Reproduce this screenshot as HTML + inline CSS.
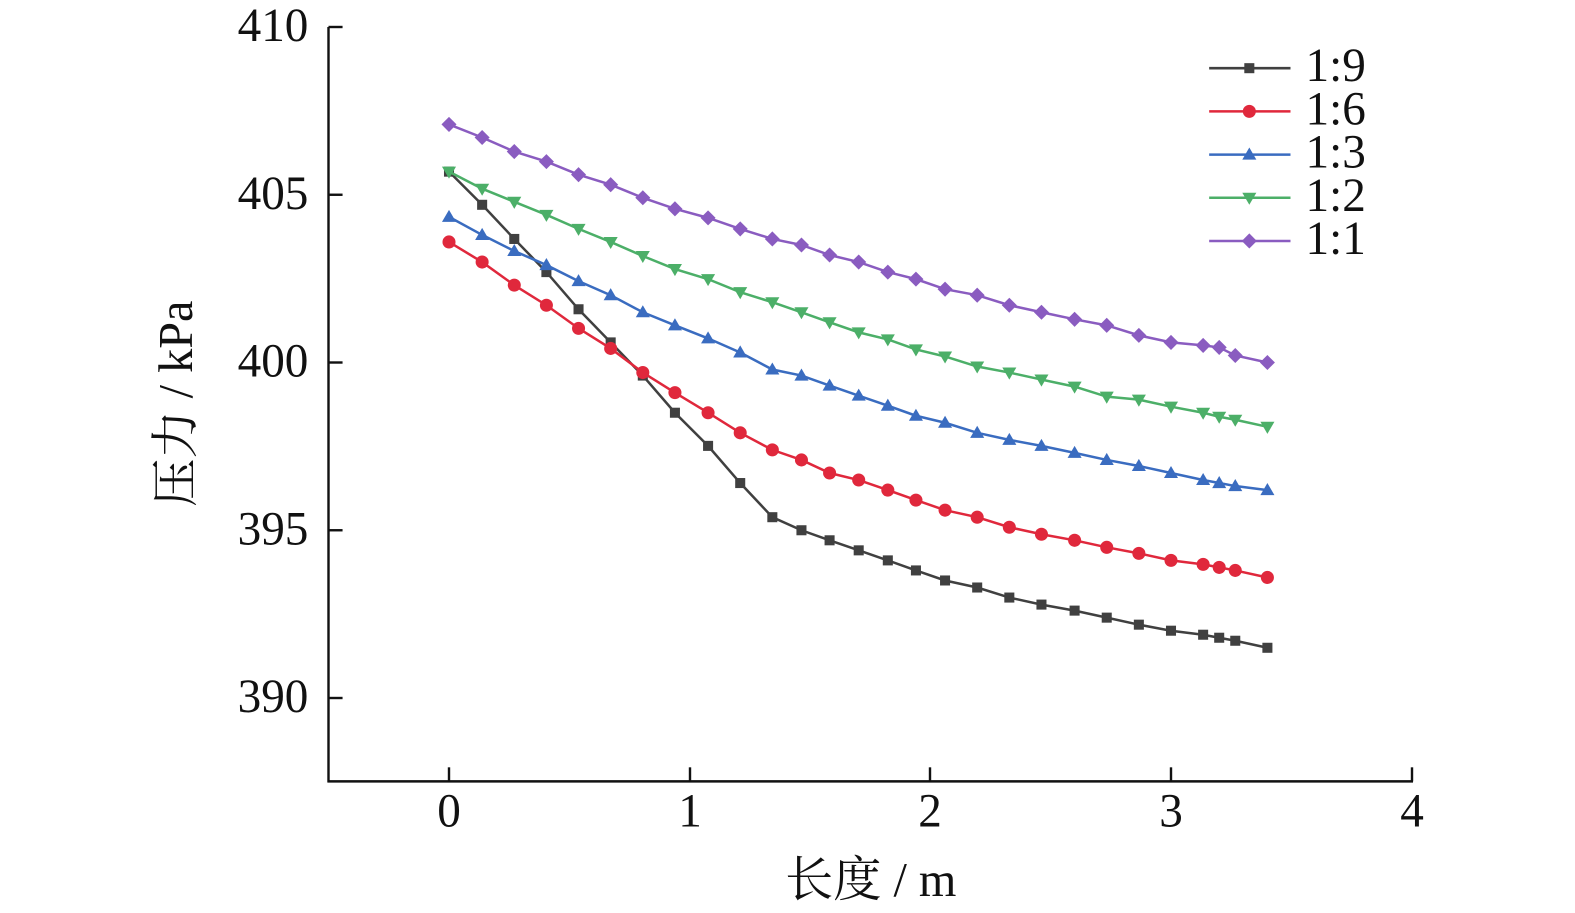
<!DOCTYPE html>
<html><head><meta charset="utf-8"><style>
html,body{margin:0;padding:0;background:#fff;overflow:hidden;width:1575px;height:913px}
svg{display:block}
text{font-family:"Liberation Serif","Noto Serif CJK SC",serif;fill:#111}
</style></head><body>
<svg width="1575" height="913" viewBox="0 0 1575 913" xmlns="http://www.w3.org/2000/svg">
<defs>
<rect id="sq" x="-5" y="-5" width="10" height="10" fill="#404040"/>
<circle id="ci" r="6.5" fill="#e0283c"/>
<polygon id="tu" points="0,-7 7,5 -7,5" fill="#3a6cc0"/>
<polygon id="td" points="0,7 7,-5 -7,-5" fill="#4caf68"/>
<polygon id="di" points="0,-7.5 7.5,0 0,7.5 -7.5,0" fill="#8a5cc0"/>
</defs>
<g transform="translate(449,27) scale(1.00417,1.0045) translate(-446,-27)">
<g stroke="#111" stroke-width="2.4" fill="none">
<line x1="326" y1="27" x2="326" y2="779"/>
<line x1="325" y1="778" x2="1406" y2="778"/>
<line x1="326" y1="27" x2="340" y2="27"/>
<line x1="326" y1="194" x2="340" y2="194"/>
<line x1="326" y1="361" x2="340" y2="361"/>
<line x1="326" y1="528" x2="340" y2="528"/>
<line x1="326" y1="695" x2="340" y2="695"/>
<line x1="446" y1="778" x2="446" y2="764"/>
<line x1="686" y1="778" x2="686" y2="764"/>
<line x1="925" y1="778" x2="925" y2="764"/>
<line x1="1165" y1="778" x2="1165" y2="764"/>
<line x1="1405" y1="778" x2="1405" y2="764"/>
</g>
<g font-size="47" text-anchor="end">
<text x="306" y="41">410</text><text x="306" y="208">405</text><text x="306" y="375">400</text><text x="306" y="542">395</text><text x="306" y="709">390</text>
</g>
<g font-size="47" text-anchor="middle">
<text x="446" y="823">0</text><text x="686" y="823">1</text><text x="925" y="823">2</text><text x="1165" y="823">3</text><text x="1405" y="823">4</text>
</g>
<text x="866" y="892" font-size="48" text-anchor="middle">长度 / m</text>
<text transform="translate(190,402) rotate(-90)" font-size="48" text-anchor="middle">压力 / kPa</text>
<g id="plot"></g>
<g font-size="47">
<line x1="1203" y1="68" x2="1284" y2="68" stroke="#404040" stroke-width="2.5"/><use href="#sq" x="1243" y="68"/><text x="1299" y="81">1:9</text>
<line x1="1203" y1="111" x2="1284" y2="111" stroke="#e0283c" stroke-width="2.5"/><use href="#ci" x="1243" y="111"/><text x="1299" y="124">1:6</text>
<line x1="1203" y1="154" x2="1284" y2="154" stroke="#3a6cc0" stroke-width="2.5"/><use href="#tu" x="1243" y="154"/><text x="1299" y="167">1:3</text>
<line x1="1203" y1="197" x2="1284" y2="197" stroke="#4caf68" stroke-width="2.5"/><use href="#td" x="1243" y="197"/><text x="1299" y="210">1:2</text>
<line x1="1203" y1="240" x2="1284" y2="240" stroke="#8a5cc0" stroke-width="2.5"/><use href="#di" x="1243" y="240"/><text x="1299" y="253">1:1</text>
</g>
</g>
</svg>
<script>
const X=[446,479,511,543,575,607,639,671,704,736,768,797,825,854,883,911,940,972,1004,1036,1069,1101,1133,1165,1197,1213,1229,1261];
const S=[
["#404040","sq",[171,204,238,271,308,341,374,411,444,481,515,528,538,548,558,568,578,585,595,602,608,615,622,628,632,635,638,645]],
["#e0283c","ci",[241,261,284,304,327,347,371,391,411,431,448,458,471,478,488,498,508,515,525,532,538,545,551,558,562,565,568,575]],
["#3a6cc0","tu",[216,234,250,264,280,294,311,324,337,351,368,374,384,394,404,414,421,431,438,444,451,458,464,471,478,481,484,488]],
["#4caf68","td",[171,188,201,214,228,241,255,268,278,291,301,311,321,331,338,348,355,365,371,378,385,395,398,405,411,415,418,425]],
["#8a5cc0","di",[124,137,151,161,174,184,197,208,217,228,238,244,254,261,271,278,288,294,304,311,318,324,334,341,344,346,354,361]]];
const ns="http://www.w3.org/2000/svg",g=document.getElementById("plot");
for(const [c,m,Y] of S){const p=document.createElementNS(ns,"polyline");
p.setAttribute("points",X.map((x,i)=>x+","+Y[i]).join(" "));p.setAttribute("fill","none");p.setAttribute("stroke",c);p.setAttribute("stroke-width","2.5");g.appendChild(p);
X.forEach((x,i)=>{const u=document.createElementNS(ns,"use");u.setAttribute("href","#"+m);u.setAttribute("x",x);u.setAttribute("y",Y[i]);g.appendChild(u);});}
</script>
</body></html>
